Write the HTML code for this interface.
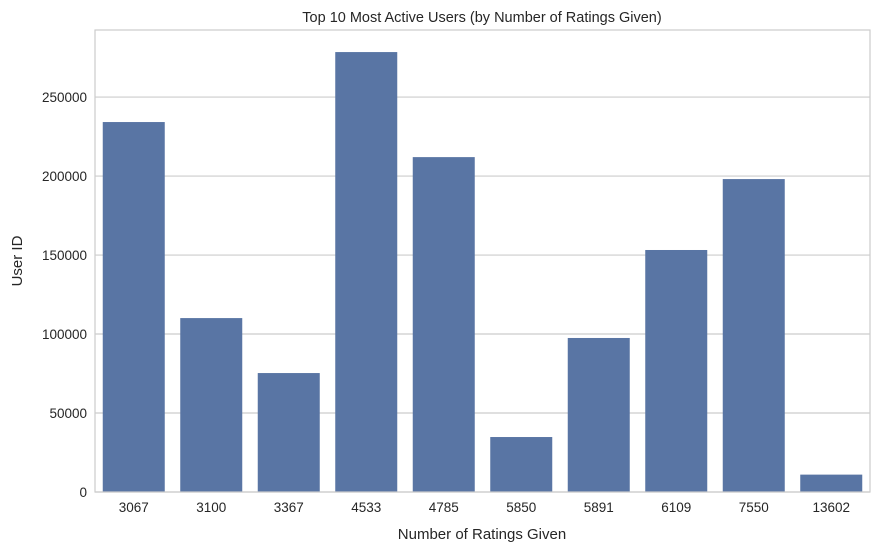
<!DOCTYPE html>
<html><head><meta charset="utf-8"><style>
body{margin:0;background:#fff;font-family:"Liberation Sans",sans-serif;}
</style></head><body>
<svg id="chart" width="879" height="550" xmlns="http://www.w3.org/2000/svg">
<text x="482" y="22" text-anchor="middle" font-size="14.5" fill="#262626">Top 10 Most Active Users (by Number of Ratings Given)</text>
<text x="482" y="539" text-anchor="middle" font-size="15" fill="#262626">Number of Ratings Given</text>
<text transform="translate(22,261) rotate(-90)" text-anchor="middle" font-size="15" fill="#262626">User ID</text>
<g id="grid"></g><g id="bars"></g><g id="xt"></g><g id="yt"></g>
<rect x="95" y="30" width="775" height="462" fill="none" stroke="#cccccc" stroke-width="1.2"/>
</svg>
<script>
const categories=["3067","3100","3367","4533","4785","5850","5891","6109","7550","13602"];
const values=[234200,110100,75300,278500,212000,34800,97500,153200,198100,11000];
const yTicks=[0,50000,100000,150000,200000,250000];
const L=95,R=870,T=30,B=492,yMax=292468;
const ns="http://www.w3.org/2000/svg";
const y=v=>B-(v/yMax)*(B-T);
const band=(R-L)/categories.length;
const x=i=>L+band*i;
function mk(t,a,p){const e=document.createElementNS(ns,t);for(const k in a)e.setAttribute(k,a[k]);document.getElementById(p).appendChild(e);return e;}
yTicks.forEach(v=>{
 const g=mk("line",{x1:L,x2:R,y1:y(v),y2:y(v),stroke:"#cccccc","stroke-width":1.2},"grid");
 
 
 const t=mk("text",{x:L-8,y:y(v)+5,"text-anchor":"end","font-size":13.5,fill:"#262626"},"yt");
 t.textContent=v;
 
 
});
categories.forEach((c,i)=>{
 const r=mk("rect",{x:x(i)+band*0.1,y:y(values[i]),width:band*0.8,height:B-y(values[i]),fill:"#5975a4"},"bars");
 
 
 const t=mk("text",{x:x(i)+band/2,y:B+20,"text-anchor":"middle","font-size":13.5,fill:"#262626"},"xt");
 t.textContent=c;
 
 
});
</script>
</body></html>
